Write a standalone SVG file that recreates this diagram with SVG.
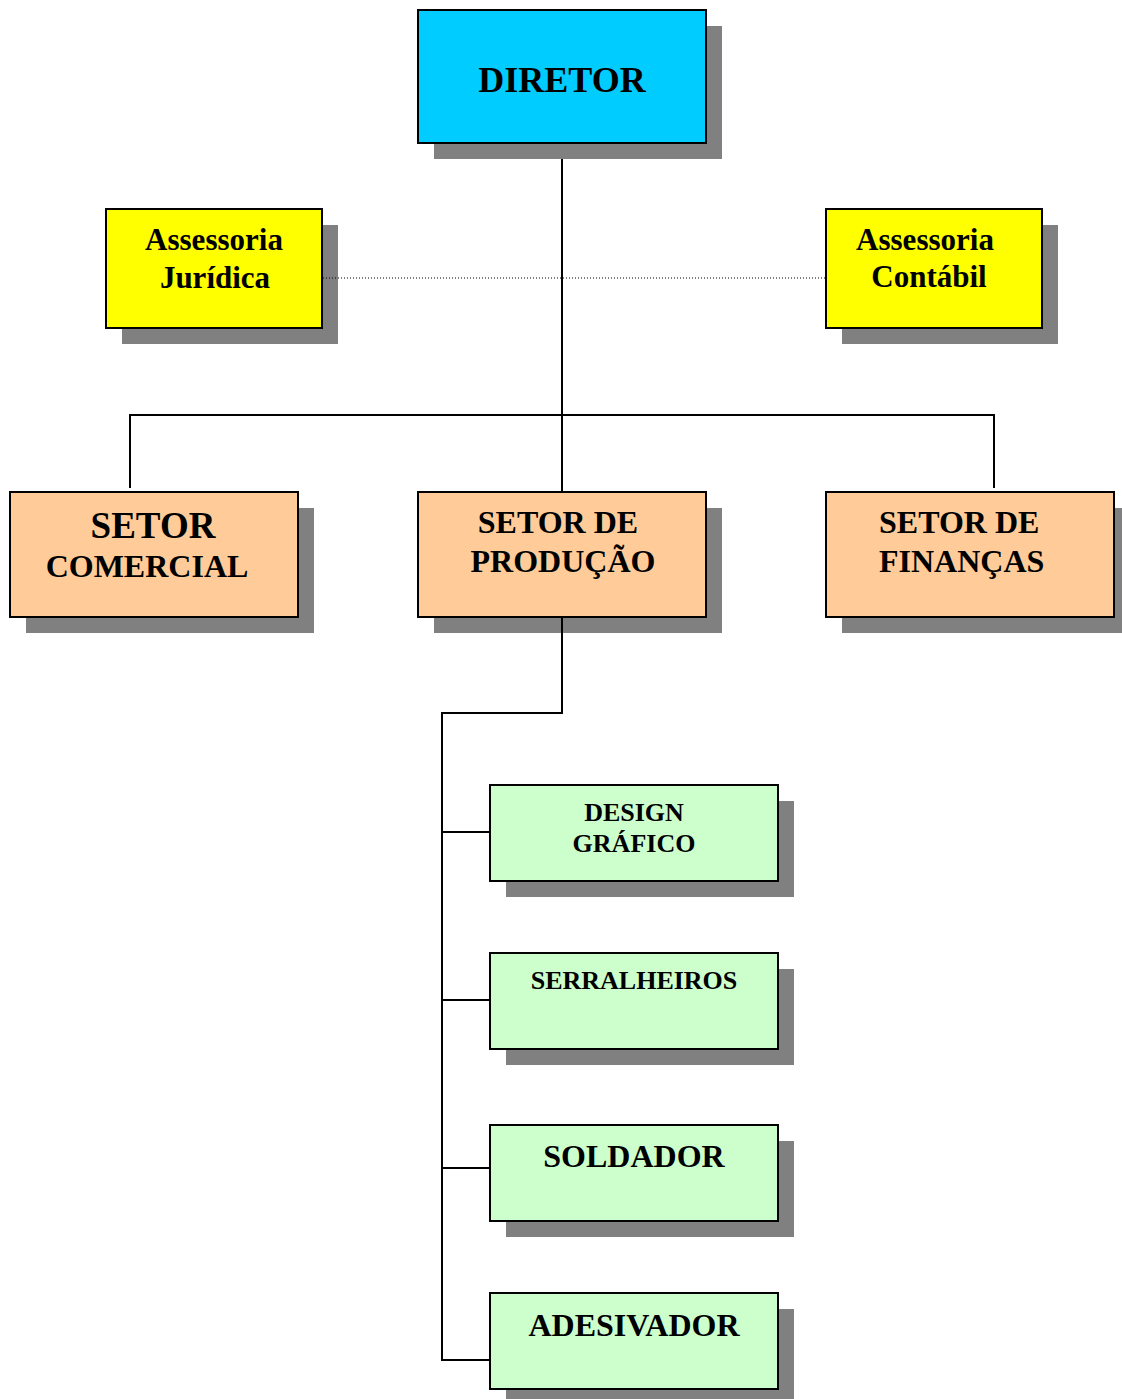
<svg xmlns="http://www.w3.org/2000/svg" width="1122" height="1399" viewBox="0 0 1122 1399">
<style>
.sh{fill:#808080}
.bx{stroke:#000;stroke-width:2}
.t{font-family:"Liberation Serif","Times New Roman",serif;font-weight:bold;fill:#000}
.c{text-anchor:middle}
.ln{fill:none;stroke:#000;stroke-width:2}
</style>
<rect width="1122" height="1399" fill="#fff"/>
<g id="diretor">
<rect class="sh" x="434" y="26" width="288" height="133"/>
<rect class="bx" x="418" y="10" width="288" height="133" fill="#00ccff"/>
<text class="t c" x="562" y="92" font-size="36">DIRETOR</text>
</g>
<g id="assessoria-juridica">
<rect class="sh" x="122" y="225" width="216" height="119"/>
<rect class="bx" x="106" y="209" width="216" height="119" fill="#ffff00"/>
<text class="t c" x="214" y="250" font-size="31">Assessoria</text>
<text class="t c" x="215" y="288" font-size="31">Jurídica</text>
</g>
<g id="assessoria-contabil">
<rect class="sh" x="842" y="225" width="216" height="119"/>
<rect class="bx" x="826" y="209" width="216" height="119" fill="#ffff00"/>
<text class="t c" x="925" y="250" font-size="31">Assessoria</text>
<text class="t c" x="929" y="287" font-size="31">Contábil</text>
</g>
<g id="setor-comercial">
<rect class="sh" x="26" y="508" width="288" height="125"/>
<rect class="bx" x="10" y="492" width="288" height="125" fill="#ffcc99"/>
<text class="t c" x="153" y="538" font-size="37">SETOR</text>
<text class="t c" x="147" y="577" font-size="32">COMERCIAL</text>
</g>
<g id="setor-producao">
<rect class="sh" x="434" y="508" width="288" height="125"/>
<rect class="bx" x="418" y="492" width="288" height="125" fill="#ffcc99"/>
<text class="t c" x="558" y="533" font-size="32">SETOR DE</text>
<text class="t c" x="563" y="572" font-size="32">PRODUÇÃO</text>
</g>
<g id="setor-financas">
<rect class="sh" x="842" y="508" width="288" height="125"/>
<rect class="bx" x="826" y="492" width="288" height="125" fill="#ffcc99"/>
<text class="t" x="879" y="533" font-size="32">SETOR DE</text>
<text class="t" x="879" y="572" font-size="32">FINANÇAS</text>
</g>
<g id="design-grafico">
<rect class="sh" x="506" y="801" width="288" height="96"/>
<rect class="bx" x="490" y="785" width="288" height="96" fill="#ccffcc"/>
<text class="t c" x="634" y="821" font-size="26">DESIGN</text>
<text class="t c" x="634" y="852" font-size="26">GRÁFICO</text>
</g>
<g id="serralheiros">
<rect class="sh" x="506" y="969" width="288" height="96"/>
<rect class="bx" x="490" y="953" width="288" height="96" fill="#ccffcc"/>
<text class="t c" x="634" y="989" font-size="26">SERRALHEIROS</text>
</g>
<g id="soldador">
<rect class="sh" x="506" y="1141" width="288" height="96"/>
<rect class="bx" x="490" y="1125" width="288" height="96" fill="#ccffcc"/>
<text class="t c" x="634" y="1167" font-size="32">SOLDADOR</text>
</g>
<g id="adesivador">
<rect class="sh" x="506" y="1309" width="288" height="96"/>
<rect class="bx" x="490" y="1293" width="288" height="96" fill="#ccffcc"/>
<text class="t c" x="634" y="1336" font-size="32">ADESIVADOR</text>
</g>
<g id="connectors">
<line class="ln" x1="562" y1="159" x2="562" y2="492"/>
<polyline class="ln" points="130,488 130,415 994,415 994,488"/>
<line x1="323" y1="278" x2="826" y2="278" stroke="#000" stroke-width="1" stroke-dasharray="1,2"/>
<polyline class="ln" points="562,617 562,713 442,713 442,1360 490,1360"/>
<line class="ln" x1="442" y1="832" x2="490" y2="832"/>
<line class="ln" x1="442" y1="1000" x2="490" y2="1000"/>
<line class="ln" x1="442" y1="1168" x2="490" y2="1168"/>
</g>
</svg>
